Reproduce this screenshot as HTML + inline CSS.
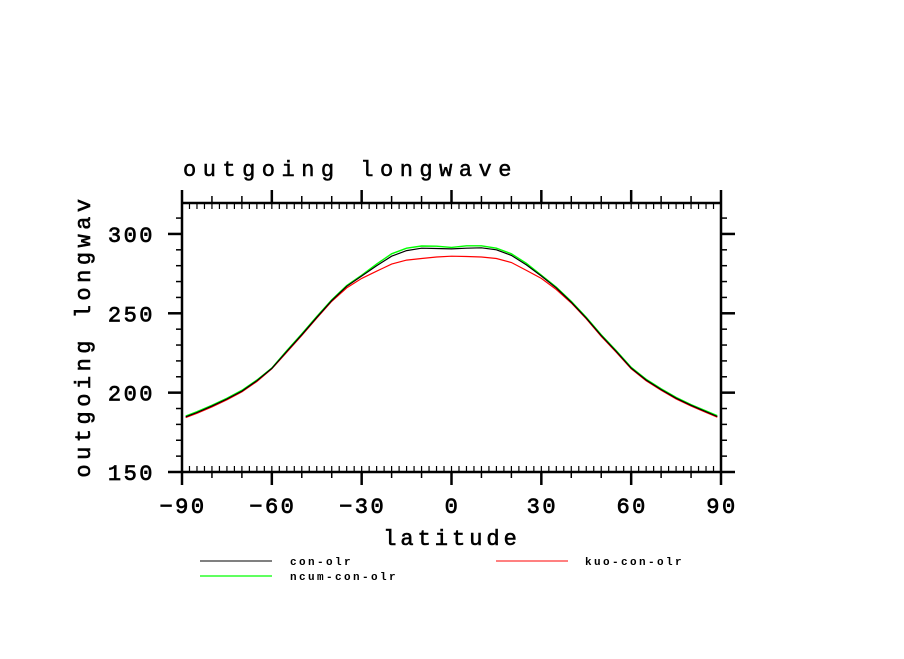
<!DOCTYPE html>
<html><head><meta charset="utf-8"><style>
body{margin:0;background:#fff}
svg text{font-family:"Liberation Mono",monospace;fill:#000}
</style></head><body>
<svg width="904" height="654" viewBox="0 0 904 654" xmlns="http://www.w3.org/2000/svg">
<rect width="904" height="654" fill="#fff"/>
<text x="183" y="176" font-size="22" letter-spacing="6.5" stroke="#000" stroke-width="0.5">outgoing longwave</text>
<g id="axes"></g>
<g id="series"></g>
<text x="452" y="545" font-size="22" letter-spacing="4" text-anchor="middle" stroke="#000" stroke-width="0.6">latitude</text>
<text transform="translate(90,336) rotate(-90)" font-size="22" letter-spacing="4.5" text-anchor="middle" stroke="#000" stroke-width="0.6">outgoing longwav</text>
<g>
<line x1="200" y1="561" x2="272" y2="561" stroke="#000" stroke-width="1"/>
<text x="290" y="565" font-size="11" font-weight="bold" letter-spacing="2.4">con-olr</text>
<line x1="496" y1="561" x2="568" y2="561" stroke="#f00" stroke-width="1"/>
<text x="585" y="565" font-size="11" font-weight="bold" letter-spacing="2.4">kuo-con-olr</text>
<line x1="200" y1="576" x2="272" y2="576" stroke="#0f0" stroke-width="1.3"/>
<text x="290" y="580" font-size="11" font-weight="bold" letter-spacing="2.4">ncum-con-olr</text>
</g>
</svg>
<script>
const lats=[-88.75,-85,-80,-75,-70,-65,-60,-55,-50,-45,-40,-35,-30,-25,-20,-15,-10,-5,0,5,10,15,20,25,30,35,40,45,50,55,60,65,70,75,80,85,88.75];
const conOlr=[184.8,187.5,191.5,196,201,207.5,215.3,226,236.5,247.5,258,267,273.5,280,286,289.5,291,290.8,290.6,291,291.3,290,286.5,280.5,273.5,266,257,247,236,226,215.5,208,202,196.5,192,188,185];
const kuoOlr=[184.3,187,191,195.5,200.5,207,215,225.5,236,247,257.5,266,272,276.5,281,283.5,284.5,285.5,286,285.8,285.5,284.5,282,277,272,265,256.5,246.5,235.5,225.5,215,207.5,201.5,196,191.5,187.5,184.5];
const ncumOlr=[185.3,188,192,196.5,201.5,208,215.5,226.5,237,248,258.5,267.5,274,281,287.5,291,292.4,292.3,291.5,292.5,292.5,291,287.5,281.5,274,266.5,257.5,247.5,236.5,226.5,216,208.5,202.5,197,192.5,188.5,185.5];
const xTicks=[-90,-60,-30,0,30,60,90];
const yTicks=[150,200,250,300];
const NS="http://www.w3.org/2000/svg";
const L=182,R=721,T=203,B=472,XMIN=-90,XMAX=90,YMIN=150,YMAX=319.5;
function sx(v){return L+(v-XMIN)/(XMAX-XMIN)*(R-L);}
function sy(v){return B-(v-YMIN)/(YMAX-YMIN)*(B-T);}
const axes=document.getElementById('axes');
function ln(x1,y1,x2,y2,w,name){const e=document.createElementNS(NS,'line');e.setAttribute('x1',x1);e.setAttribute('y1',y1);e.setAttribute('x2',x2);e.setAttribute('y2',y2);e.setAttribute('stroke','#000');e.setAttribute('stroke-width',w);


axes.appendChild(e);}
function tx(x,y,s,anchor,name){const e=document.createElementNS(NS,'text');e.setAttribute('x',x);e.setAttribute('y',y);e.setAttribute('font-size','22');e.setAttribute('letter-spacing','2.5');e.setAttribute('text-anchor',anchor);e.setAttribute('stroke','#000');e.setAttribute('stroke-width','0.7');e.textContent=s;


axes.appendChild(e);}
ln(L,T,R,T,2.5,'top-axis');ln(L,B,R,B,2.5,'bottom-axis');ln(L,T,L,B,2.5,'left-axis');ln(R,T,R,B,2.5,'right-axis');
for(let v=XMIN;v<=XMAX;v+=2.5){const x=sx(v);
 if(v%10===0){const maj=v%30===0;ln(x,T,x,T-(maj?13:7),maj?2.5:1.5,'x-tick-top');ln(x,B,x,B+(maj?13:6),maj?2.5:1.5,'x-tick-bottom');}
 ln(x,T,x,T+6,1.2,'x-minor-tick-top');ln(x,B,x,B-6,1.2,'x-minor-tick-bottom');}
for(let v=YMIN;v<=YMAX;v+=10){const y=sy(v);const maj=v%50===0;
 ln(L,y,L-(maj?14:6),y,maj?2.5:1.5,'y-tick-left');ln(R,y,R+(maj?14:6),y,maj?2.5:1.5,'y-tick-right');}
xTicks.forEach(v=>tx(sx(v)+1,513,(v<0?'\u2212':'')+Math.abs(v),'middle','x-tick-label'));
yTicks.forEach(v=>tx(155,sy(v)+8,String(v),'end','y-tick-label'));
const g=document.getElementById('series');
function series(vals,color,w,name){const p=document.createElementNS(NS,'polyline');
p.setAttribute('points',lats.map((la,i)=>sx(la).toFixed(1)+','+sy(vals[i]).toFixed(1)).join(' '));
p.setAttribute('fill','none');p.setAttribute('stroke',color);p.setAttribute('stroke-width',w);


g.appendChild(p);}
series(kuoOlr,'#f00',1.2,'line-kuo-con-olr');
series(ncumOlr,'#0f0',1.4,'line-ncum-con-olr');
series(conOlr,'#000',1.2,'line-con-olr');
</script>
</body></html>
